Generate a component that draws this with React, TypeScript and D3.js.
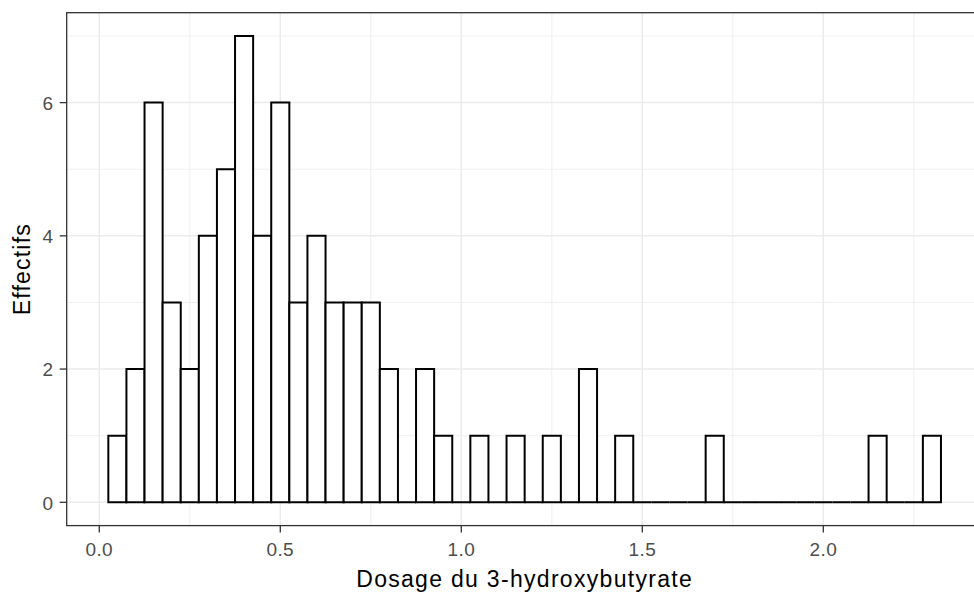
import * as d3 from "d3";

// histogram of 3-hydroxybutyrate dosage, binwidth 0.05
const binStart = 0.025;
const binWidth = 0.05;
const counts = [
  1, 2, 6, 3, 2, 4, 5, 7, 4, 6,
  3, 4, 3, 3, 3, 2, 0, 2, 1, 0,
  1, 0, 1, 0, 1, 0, 2, 0, 1, 0,
  0, 0, 0, 1, 0, 0, 0, 0, 0, 0,
  0, 0, 1, 0, 0, 1,
];
const xTicks = [0, 0.5, 1.0, 1.5, 2.0];
const xMinor = [0.25, 0.75, 1.25, 1.75, 2.25];
const yTicks = [0, 2, 4, 6];
const yMinor = [1, 3, 5, 7];
const xLabel = "Dosage du 3-hydroxybutyrate";
const yLabel = "Effectifs";

const W = 974;
const H = 595;
const panel = { left: 66.7, top: 12.7, right: 982.6, bottom: 525.6 };

export default function App() {
  const bins = counts.map((c, i) => ({
    x0: binStart + i * binWidth,
    x1: binStart + (i + 1) * binWidth,
    n: c,
  }));
  const lo = bins[0].x0;
  const hi = bins[bins.length - 1].x1;
  const padX = (hi - lo) * 0.05;
  const yMax = d3.max(counts) ?? 0;

  const x = d3.scaleLinear().domain([lo - padX, hi + padX]).range([panel.left, panel.right]);
  const y = d3.scaleLinear().domain([-yMax * 0.05, yMax * 1.05]).range([panel.bottom, panel.top]);

  const barPath = (b: { x0: number; x1: number; n: number }) => {
    const p = d3.path();
    p.moveTo(x(b.x0), y(0));
    p.lineTo(x(b.x0), y(b.n));
    p.lineTo(x(b.x1), y(b.n));
    p.lineTo(x(b.x1), y(0));
    p.closePath();
    return p.toString();
  };

  const fmt = d3.format(".1f");
  const grid = "#EBEBEB";

  return (
    <>
      <style>{"body{margin:0}"}</style>
      <svg width={W} height={H} style={{ display: "block", fontFamily: "'Liberation Sans', Arial, sans-serif" }}>
        <defs>
          <clipPath id="panel">
            <rect x={panel.left} y={panel.top} width={panel.right - panel.left} height={panel.bottom - panel.top} />
          </clipPath>
        </defs>
        <rect x={0} y={0} width={W} height={H} fill="#fff" />

        <g clipPath="url(#panel)">
          {xMinor.map((v) => (
            <line key={"xm" + v} x1={x(v)} x2={x(v)} y1={panel.top} y2={panel.bottom} stroke={grid} strokeWidth={0.8} />
          ))}
          {yMinor.map((v) => (
            <line key={"ym" + v} x1={panel.left} x2={panel.right} y1={y(v)} y2={y(v)} stroke={grid} strokeWidth={0.8} />
          ))}
          {xTicks.map((v) => (
            <line key={"xg" + v} x1={x(v)} x2={x(v)} y1={panel.top} y2={panel.bottom} stroke={grid} strokeWidth={1.5} />
          ))}
          {yTicks.map((v) => (
            <line key={"yg" + v} x1={panel.left} x2={panel.right} y1={y(v)} y2={y(v)} stroke={grid} strokeWidth={1.5} />
          ))}
          {bins.map((b, i) => (
            <path key={i} d={barPath(b)} fill="#fff" stroke="#000" strokeWidth={2} strokeLinejoin="miter" />
          ))}
        </g>

        {/* panel border */}
        <rect
          x={panel.left}
          y={panel.top}
          width={panel.right - panel.left}
          height={panel.bottom - panel.top}
          fill="none"
          stroke="#333333"
          strokeWidth={1.3}
        />

        {/* axes */}
        {xTicks.map((v) => (
          <g key={"xt" + v}>
            <line x1={x(v)} x2={x(v)} y1={panel.bottom} y2={panel.bottom + 7} stroke="#333333" strokeWidth={1.3} />
            <text x={x(v)} y={556} textAnchor="middle" fontSize={19} fill="#4D4D4D" letterSpacing={0.4}>
              {fmt(v)}
            </text>
          </g>
        ))}
        {yTicks.map((v) => (
          <g key={"yt" + v}>
            <line x1={panel.left - 7} x2={panel.left} y1={y(v)} y2={y(v)} stroke="#333333" strokeWidth={1.3} />
            <text x={53} y={y(v)} dy="0.38em" textAnchor="end" fontSize={19} fill="#4D4D4D">
              {v}
            </text>
          </g>
        ))}

        <text x={(panel.left + panel.right) / 2} y={587} textAnchor="middle" fontSize={23} letterSpacing={1.3} fill="#000">
          {xLabel}
        </text>
        <text
          transform={`translate(30,${(panel.top + panel.bottom) / 2}) rotate(-90)`}
          textAnchor="middle"
          fontSize={23}
          letterSpacing={1.2}
          fill="#000"
        >
          {yLabel}
        </text>
      </svg>
    </>
  );
}
